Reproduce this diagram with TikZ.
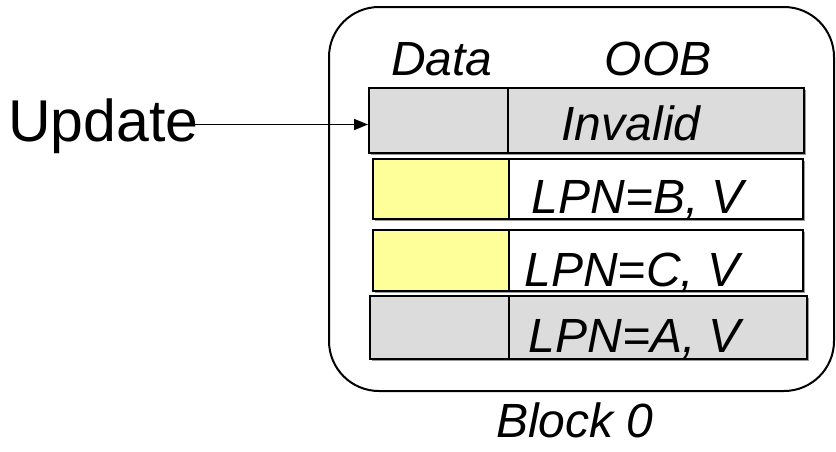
\documentclass[tikz,border=0pt]{standalone}
\usepackage{fontspec}
\setmainfont{Liberation Sans}
\usetikzlibrary{arrows.meta,shadows}
\definecolor{cellgray}{HTML}{DCDCDC}
\definecolor{cellyellow}{HTML}{FFFF99}
\tikzset{
  cell/.style={draw=black, line width=2pt, rectangle, inner sep=0pt, anchor=north west,
    drop shadow={shadow xshift=2pt, shadow yshift=-2pt, fill=black!40, opacity=1}},
  lbl/.style={font=\fontsize{48}{52}\selectfont\itshape, inner sep=0pt, anchor=base},
  blockbox/.style={draw=black, line width=2pt, rounded corners=50pt},
  conn/.style={line width=1.8pt, -{Triangle[length=14pt,width=11pt]}}
}
\begin{document}
\begin{tikzpicture}[x=1pt,y=-1pt]
\useasboundingbox (0,0) rectangle (836,451);
% outer block
\draw[blockbox] (329,7) rectangle (834,391);
% row 1
\node[cell, fill=cellgray, minimum width=139pt, minimum height=65pt] (r1d) at (368,87) {};
\node[cell, fill=cellgray, minimum width=296pt, minimum height=65pt] (r1o) at (507,87) {};
% row 2
\node[cell, fill=cellyellow, minimum width=136pt, minimum height=60pt] (r2d) at (372,158) {};
\node[cell, fill=white, minimum width=294pt, minimum height=60pt] (r2o) at (508,158) {};
% row 3
\node[cell, fill=cellyellow, minimum width=136pt, minimum height=61pt] (r3d) at (372,229) {};
\node[cell, fill=white, minimum width=294pt, minimum height=61pt] (r3o) at (508,229) {};
% row 4
\node[cell, fill=cellgray, minimum width=139pt, minimum height=63pt] (r4d) at (369,295) {};
\node[cell, fill=cellgray, minimum width=298pt, minimum height=63pt] (r4o) at (508,295) {};
% labels
\node[lbl] (data) at (442,75) {Data};
\node[lbl] (oob) at (658,75) {OOB};
\node[lbl] (t1) at (631,140) {Invalid};
\node[lbl] (t2) at (638,213) {LPN=B, V};
\node[lbl] (t3) at (632,286) {LPN=C, V};
\node[lbl] (t4) at (635,352) {LPN=A, V};
\node[lbl] (blk) at (575,437) {Block 0};
\node[font=\fontsize{59}{63}\selectfont, inner sep=0pt, anchor=base west] (upd) at (8,141) {Update};
% connector
\draw[conn] ([xshift=-14pt,yshift=-4pt]upd.east |- r1d.west) -- ([yshift=-4pt]r1d.west);
\end{tikzpicture}
\end{document}
